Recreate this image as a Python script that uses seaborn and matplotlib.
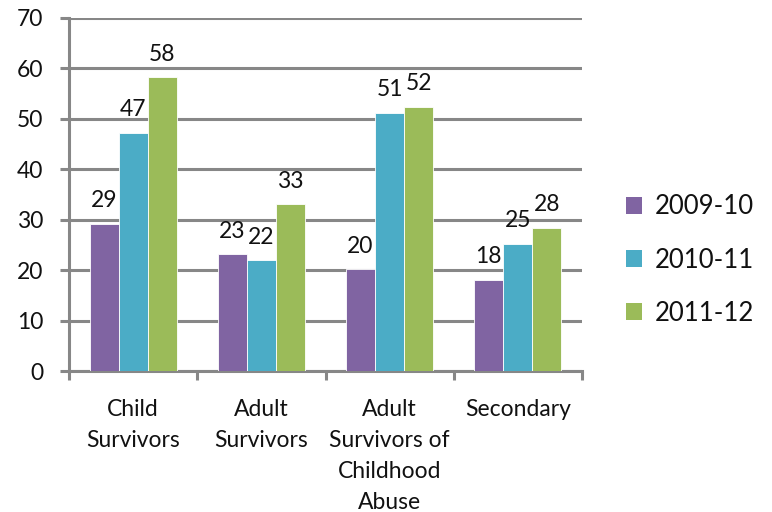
import matplotlib
matplotlib.use("Agg")
import matplotlib.pyplot as plt
import seaborn as sns
import pandas as pd
from matplotlib.patches import Patch
from matplotlib.ticker import FixedLocator

categories = ["Child\nSurvivors", "Adult\nSurvivors", "Adult\nSurvivors of\nChildhood\nAbuse", "Secondary"]
years = ["2009-10", "2010-11", "2011-12"]
values_2009 = [29.2, 23.2, 20.2, 18.1]
values_2010 = [47.2, 22.0, 51.2, 25.2]
values_2011 = [58.3, 33.1, 52.4, 28.4]
colors = ["#8064A2", "#4BACC6", "#9BBB59"]
yticks = [0, 10, 20, 30, 40, 50, 60, 70]

rows = []
for yr, vals in zip(years, [values_2009, values_2010, values_2011]):
    for cat, v in zip(categories, vals):
        rows.append({"category": cat, "year": yr, "value": v})
df = pd.DataFrame(rows)

sns.set_theme(style="white")
plt.rcParams["font.family"] = ["Lato", "DejaVu Sans"]

fig = plt.figure(figsize=(7.72, 5.12), dpi=100)
ax = fig.add_axes([69 / 772, 1 - 371 / 512, (582 - 69) / 772, (371 - 18) / 512])

grid_col = "#878787"
txt_col = "#111111"
fs = 16.5
sns.barplot(data=df, x="category", y="value", hue="year", palette=colors,
            order=categories, hue_order=years, width=0.68, gap=0, saturation=1,
            edgecolor="white", linewidth=0.6, legend=False, ax=ax, zorder=3)

for cont in ax.containers:
    ax.bar_label(cont, labels=[f"{b.get_height():.0f}" for b in cont],
                 padding=9, fontsize=fs, color=txt_col)

ax.set_ylim(0, 70)
ax.set_xlim(-0.5, len(categories) - 0.5)
ax.set_yticks(yticks)
ax.yaxis.grid(True, color=grid_col, linewidth=2.2, zorder=0)
ax.set_axisbelow(True)
ax.set_xlabel("")
ax.set_ylabel("")

for s in ["top", "right"]:
    ax.spines[s].set_visible(False)
for s in ["left", "bottom"]:
    ax.spines[s].set_color(grid_col)
    ax.spines[s].set_linewidth(2.2)

ax.tick_params(axis="y", which="major", length=6.5, width=2.2, color=grid_col,
               labelsize=fs, labelcolor=txt_col, pad=12, left=True)
ax.tick_params(axis="x", which="major", length=0, labelsize=fs,
               labelcolor=txt_col, pad=20)
ax.xaxis.set_minor_locator(FixedLocator([i - 0.5 for i in range(len(categories) + 1)]))
ax.tick_params(axis="x", which="minor", length=6.5, width=2.2, color=grid_col, bottom=True)
for lbl in ax.get_xticklabels():
    lbl.set_linespacing(1.6)
    lbl.set_verticalalignment("top")

handles = [Patch(facecolor=c, edgecolor="none") for c in colors]
fig.legend(handles, years, loc="center left", bbox_to_anchor=(626 / 772, 1 - 260 / 512),
           frameon=False, fontsize=18.5, handlelength=0.62, handleheight=0.62,
           handletextpad=0.5, labelspacing=1.1, labelcolor=txt_col,
           borderpad=0, borderaxespad=0)

fig.savefig("out.png", dpi=100)
